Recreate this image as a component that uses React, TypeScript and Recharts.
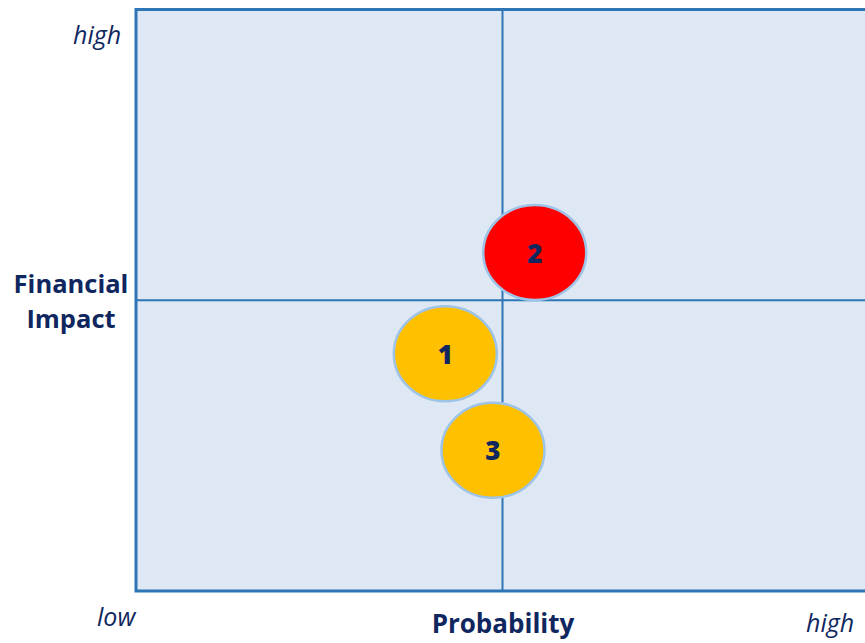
import React from "react";
import {
  ScatterChart,
  Scatter,
  XAxis,
  YAxis,
  CartesianGrid,
  ReferenceArea,
} from "recharts";

const riskIds = ["1", "2", "3"];
const probability = [4.22, 5.44, 4.87];
const impact = [4.08, 5.82, 2.42];
const riskColors = ["#FFC000", "#FF0000", "#FFC000"];
const axisTicks = [0, 5, 10];

const data = riskIds.map((id, i) => ({
  id,
  x: probability[i],
  y: impact[i],
  color: riskColors[i],
}));

const NAVY = "#0F275E";
const FONT = "'Open Sans', 'Noto Sans', sans-serif";

const Bubble = (props: any) => {
  const { cx, cy, payload } = props;
  return (
    <g>
      <ellipse
        cx={cx}
        cy={cy}
        rx={51.5}
        ry={47.5}
        fill={payload.color}
        stroke="#9DC3E6"
        strokeWidth={2.5}
      />
      <text
        x={cx}
        y={cy}
        textAnchor="middle"
        dominantBaseline="central"
        fill={NAVY}
        fontFamily={FONT}
        fontWeight={800}
        fontSize={26}
      >
        {payload.id}
      </text>
    </g>
  );
};

const labelBase: React.CSSProperties = {
  position: "absolute",
  color: NAVY,
  fontFamily: FONT,
  whiteSpace: "nowrap",
  lineHeight: 1,
};

export default function App() {
  return (
    <div
      style={{
        position: "fixed",
        left: 0,
        top: 0,
        width: 865,
        height: 643,
        overflow: "hidden",
        background: "#fff",
      }}
    >
      <ScatterChart
        width={882}
        height={643}
        margin={{ top: 9.5, right: 13, bottom: 52, left: 136 }}
      >
        <XAxis type="number" dataKey="x" domain={[0, 10]} ticks={axisTicks} hide />
        <YAxis type="number" dataKey="y" domain={[0, 10]} ticks={axisTicks} hide />
        <CartesianGrid
          fill="#DEE8F4"
          stroke="#2E75B6"
          strokeWidth={2}
          horizontalValues={[5]}
          verticalValues={[5]}
        />
        <ReferenceArea
          x1={0}
          x2={10}
          y1={0}
          y2={10}
          fill="none"
          stroke="#2E75B6"
          strokeWidth={3}
          fillOpacity={0}
        />
        <Scatter data={data} shape={Bubble} isAnimationActive={false} />
      </ScatterChart>

      <div style={{ ...labelBase, left: 73, top: 22, fontSize: 25, fontStyle: "italic" }}>high</div>
      <div
        style={{
          ...labelBase,
          left: 0,
          width: 142,
          top: 266,
          fontSize: 25.5,
          fontWeight: 700,
          textAlign: "center",
          lineHeight: "35px",
        }}
      >
        Financial
        <br />
        Impact
      </div>
      <div style={{ ...labelBase, left: 97, top: 604, fontSize: 25, fontStyle: "italic" }}>low</div>
      <div
        style={{
          ...labelBase,
          left: 403,
          width: 200,
          top: 610,
          fontSize: 26,
          fontWeight: 700,
          textAlign: "center",
        }}
      >
        Probability
      </div>
      <div style={{ ...labelBase, left: 806, top: 610, fontSize: 25, fontStyle: "italic" }}>high</div>
    </div>
  );
}
